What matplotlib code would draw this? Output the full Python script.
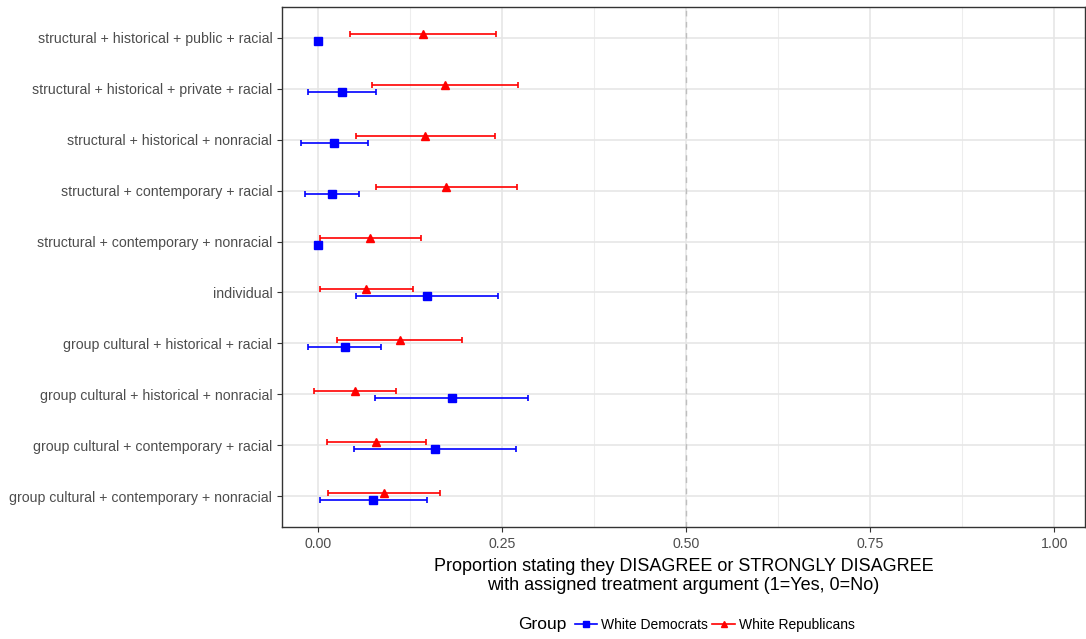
import matplotlib.pyplot as plt
import numpy as np
from matplotlib.lines import Line2D

plt.rcParams['font.family'] = ['Liberation Sans', 'DejaVu Sans']

# treatment arguments, top to bottom
categories = [
    'structural + historical + public + racial',
    'structural + historical + private + racial',
    'structural + historical + nonracial',
    'structural + contemporary + racial',
    'structural + contemporary + nonracial',
    'individual',
    'group cultural + historical + racial',
    'group cultural + historical + nonracial',
    'group cultural + contemporary + racial',
    'group cultural + contemporary + nonracial',
]

dem_est = [0.000, 0.033, 0.022, 0.019, 0.000, 0.148, 0.037, 0.182, 0.159, 0.075]
dem_lo = [0.000, -0.013, -0.023, -0.018, 0.000, 0.052, -0.014, 0.078, 0.049, 0.003]
dem_hi = [0.000, 0.079, 0.068, 0.056, 0.000, 0.244, 0.086, 0.285, 0.269, 0.148]

rep_est = [0.143, 0.172, 0.145, 0.174, 0.071, 0.065, 0.111, 0.050, 0.079, 0.089]
rep_lo = [0.043, 0.073, 0.051, 0.079, 0.003, 0.002, 0.026, -0.006, 0.012, 0.014]
rep_hi = [0.242, 0.271, 0.240, 0.270, 0.140, 0.129, 0.196, 0.106, 0.147, 0.165]

x_ticks = [0.0, 0.25, 0.5, 0.75, 1.0]
x_tick_labels = ['0.00', '0.25', '0.50', '0.75', '1.00']

fig = plt.figure(figsize=(10.86, 6.39), dpi=100)
ax = fig.add_axes([282 / 1086, 1 - 527 / 639, 803 / 1086, 520 / 639])

n = len(categories)
ypos = np.arange(n, 0, -1)  # top category gets highest value
off = 0.065

dem_est = np.array(dem_est)
rep_est = np.array(rep_est)
dem_err = [dem_est - np.array(dem_lo), np.array(dem_hi) - dem_est]
rep_err = [rep_est - np.array(rep_lo), np.array(rep_hi) - rep_est]

ax.errorbar(dem_est, ypos - off, xerr=dem_err, fmt='s', color='blue',
            ms=5.5, elinewidth=1.2, capsize=2.5, capthick=1.2, zorder=3)
ax.errorbar(rep_est, ypos + off, xerr=rep_err, fmt='^', color='red',
            ms=6, elinewidth=1.2, capsize=2.5, capthick=1.2, zorder=3)

ax.axvline(0.5, color='#BEBEBE', linestyle=(0, (4, 4)), linewidth=1, zorder=2)

ax.set_xlim(-0.049, 1.042)
ax.set_ylim(0.4, n + 0.6)
ax.set_xticks(x_ticks)
ax.set_xticklabels(x_tick_labels)
ax.set_xticks([0.125, 0.375, 0.625, 0.875], minor=True)
ax.set_yticks(ypos)
ax.set_yticklabels(categories)

ax.grid(which='major', color='#E6E6E6', linewidth=1.2, zorder=0)
ax.grid(which='minor', axis='x', color='#EDEDED', linewidth=0.8, zorder=0)
ax.set_axisbelow(True)

for s in ax.spines.values():
    s.set_color('#333333')
    s.set_linewidth(1.0)
ax.tick_params(axis='both', which='major', colors='#333333', labelcolor='#4D4D4D',
               labelsize=10.2, length=3.5, width=0.8)
ax.tick_params(axis='both', which='minor', length=0)

ax.set_xlabel('Proportion stating they DISAGREE or STRONGLY DISAGREE\n'
              'with assigned treatment argument (1=Yes, 0=No)',
              fontsize=13, color='black', labelpad=5, linespacing=1.2)

handles = [
    Line2D([0], [0], color='blue', marker='s', ms=4.5, lw=1.2),
    Line2D([0], [0], color='red', marker='^', ms=5, lw=1.2),
]
fig.text(518 / 1086, 1 - 625 / 639, 'Group', fontsize=12.5, va='center', ha='left')
fig.legend(handles, ['White Democrats', 'White Republicans'],
           loc='center left', bbox_to_anchor=(575 / 1086, 1 - 625 / 639),
           ncol=2, frameon=False, fontsize=10, handlelength=1.6,
           handletextpad=0.3, columnspacing=0.3, borderaxespad=0, borderpad=0)

fig.savefig('out.png', dpi=100)
